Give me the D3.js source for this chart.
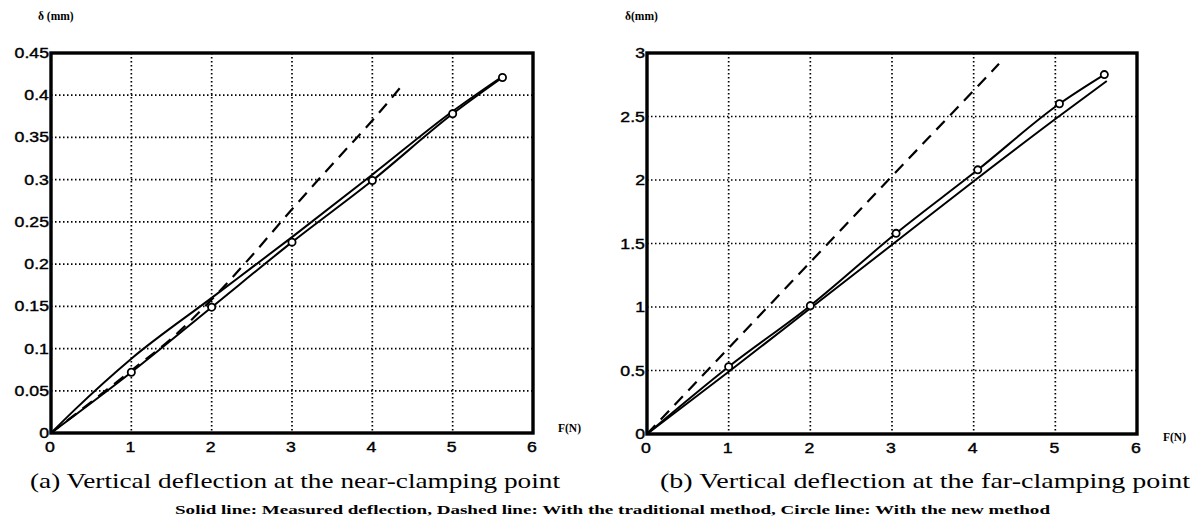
<!DOCTYPE html>
<meta charset="utf-8">
<style>
body { margin: 0; background: #fff; }
.tick-label { font-family: "Liberation Sans", Arial, sans-serif; font-size: 14.5px; fill: #000; stroke: #000; stroke-width: 0.4px; }
.serif { font-family: "Times New Roman", "Liberation Serif", Times, serif; fill: #000; }
</style>
<svg width="1194" height="522"></svg>
<script src="https://d3js.org/d3.v7.min.js"></script>
<script>

// ---- data ----
// panel (a): near-clamping point
var a_measured = [[0,0],[0.3,0.028],[1,0.088],[2,0.160],[3,0.232],[4,0.306],[5,0.381],[5.6,0.421]];
var a_traditional = [[0,0],[1,0.074],[1.5,0.112],[2,0.158],[2.5,0.21],[3,0.265],[3.5,0.318],[4,0.37],[4.4,0.415]];
var a_new = [[0,0],[1,0.072],[2,0.149],[3,0.226],[4,0.299],[5,0.378],[5.62,0.421]];
var a_yticks = [0, 0.05, 0.1, 0.15, 0.2, 0.25, 0.3, 0.35, 0.4, 0.45];
var a_ylabels = ["0", "0.05", "0.1", "0.15", "0.2", "0.25", "0.3", "0.35", "0.4", "0.45"];

// panel (b): far-clamping point
var b_measured = [[0,0],[1,0.49],[2,0.99],[3,1.49],[4,1.99],[5,2.48],[5.63,2.78]];
var b_traditional = [[0,0],[1,0.677],[2,1.353],[3,2.03],[4,2.705],[4.31,2.915]];
var b_new = [[0,0],[1,0.53],[2,1.01],[3.05,1.58],[4.05,2.08],[5.05,2.6],[5.6,2.83]];
var b_yticks = [0, 0.5, 1, 1.5, 2, 2.5, 3];
var b_ylabels = ["0", "0.5", "1", "1.5", "2", "2.5", "3"];

var xticks = [0, 1, 2, 3, 4, 5, 6];

var caption_a = "(a) Vertical deflection at the near-clamping point";
var caption_b = "(b) Vertical deflection at the far-clamping point";
var note = "Solid line: Measured deflection, Dashed line: With the traditional method, Circle line: With the new method";

var svg = d3.select("svg");

// the scanned figure is a bit stretched sideways, so widen labels to match
function widen(sel, k) {
  sel.each(function() {
    var w = this.getComputedTextLength();
    d3.select(this).attr("textLength", w * k).attr("lengthAdjust", "spacingAndGlyphs");
  });
}

function drawPanel(p) {
  var x = d3.scaleLinear().domain([0, 6]).range([p.left, p.right]);
  var y = d3.scaleLinear().domain([0, p.ymax]).range([p.bottom, p.top]);
  var g = svg.append("g");

  // dotted grid
  g.selectAll("line.vgrid").data(xticks.slice(1, -1)).enter().append("line")
    .attr("x1", d => x(d)).attr("x2", d => x(d))
    .attr("y1", p.top).attr("y2", p.bottom)
    .style("stroke", "#000").style("stroke-width", 1.7)
    .style("stroke-dasharray", "1.5,2.5");
  g.selectAll("line.hgrid").data(p.yticks.slice(1, -1)).enter().append("line")
    .attr("y1", d => y(d)).attr("y2", d => y(d))
    .attr("x1", p.left).attr("x2", p.right)
    .style("stroke", "#000").style("stroke-width", 1.7)
    .style("stroke-dasharray", "1.5,2.5");

  var line = d3.line().x(d => x(d[0])).y(d => y(d[1])).curve(d3.curveMonotoneX);

  g.append("path").datum(p.measured).attr("d", line)
    .style("fill", "none").style("stroke", "#000").style("stroke-width", 2);
  g.append("path").datum(p.traditional).attr("d", line)
    .style("fill", "none").style("stroke", "#000").style("stroke-width", 2.2)
    .style("stroke-dasharray", "12,8");
  g.append("path").datum(p.newm).attr("d", line)
    .style("fill", "none").style("stroke", "#000").style("stroke-width", 2);
  g.selectAll("circle").data(p.newm.slice(1)).enter().append("circle")
    .attr("cx", d => x(d[0])).attr("cy", d => y(d[1])).attr("r", 3.6)
    .style("fill", "#fff").style("stroke", "#000").style("stroke-width", 1.8);

  // frame
  g.append("rect").attr("x", p.left).attr("y", p.top)
    .attr("width", p.right - p.left).attr("height", p.bottom - p.top)
    .style("fill", "none").style("stroke", "#000").style("stroke-width", 3.4);

  // tick labels
  var yl = g.selectAll("text.ytl").data(p.yticks).enter().append("text")
    .attr("class", "tick-label")
    .attr("x", p.left - 2).attr("y", d => y(d) + 5)
    .attr("text-anchor", "end")
    .text((d, i) => p.ylabels[i]);
  var xl = g.selectAll("text.xtl").data(xticks).enter().append("text")
    .attr("class", "tick-label")
    .attr("x", d => x(d) - 1).attr("y", p.bottom + 19)
    .attr("text-anchor", "middle")
    .text(d => d);
  widen(yl, 1.22);
  widen(xl, 1.22);

  // axis names
  g.append("text").attr("class", "serif")
    .attr("x", p.ylabX).attr("y", 20)
    .style("font-size", "11.5px").style("font-weight", "bold")
    .text(p.ylab);
  g.append("text").attr("class", "serif")
    .attr("x", p.xlabX).attr("y", p.xlabY)
    .style("font-size", "11.5px").style("font-weight", "bold")
    .text("F(N)");

  g.append("text").attr("class", "serif")
    .attr("x", p.capX).attr("y", 488)
    .style("font-size", "22px")
    .attr("textLength", p.capW).attr("lengthAdjust", "spacingAndGlyphs")
    .text(p.caption);
}

drawPanel({
  left: 51, right: 533, top: 53, bottom: 433, ymax: 0.45,
  yticks: a_yticks, ylabels: a_ylabels,
  measured: a_measured, traditional: a_traditional, newm: a_new,
  ylab: "\u03b4 (mm)", ylabX: 38, xlabX: 558, xlabY: 432,
  caption: caption_a, capX: 30, capW: 530
});

drawPanel({
  left: 647, right: 1137, top: 53, bottom: 434, ymax: 3,
  yticks: b_yticks, ylabels: b_ylabels,
  measured: b_measured, traditional: b_traditional, newm: b_new,
  ylab: "\u03b4(mm)", ylabX: 625, xlabX: 1163, xlabY: 441,
  caption: caption_b, capX: 660, capW: 530
});

svg.append("text").attr("class", "serif")
  .attr("x", 175).attr("y", 514)
  .style("font-size", "13.5px").style("font-weight", "bold")
  .attr("textLength", 875).attr("lengthAdjust", "spacingAndGlyphs")
  .text(note);

</script>
